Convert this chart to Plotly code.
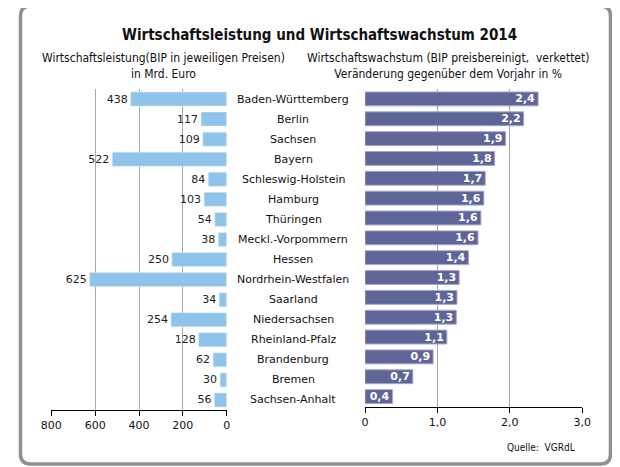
import plotly.graph_objects as go

# ---- data ----
states = ["Baden-Württemberg", "Berlin", "Sachsen", "Bayern", "Schleswig-Holstein",
          "Hamburg", "Thüringen", "Meckl.-Vorpommern", "Hessen", "Nordrhein-Westfalen",
          "Saarland", "Niedersachsen", "Rheinland-Pfalz", "Brandenburg", "Bremen",
          "Sachsen-Anhalt"]
gdp_bn_eur = [438, 117, 109, 522, 84, 103, 54, 38, 250, 625, 34, 254, 128, 62, 30, 56]
growth_pct = [2.39, 2.19, 1.94, 1.79, 1.66, 1.64, 1.60, 1.56, 1.43, 1.30,
              1.27, 1.26, 1.13, 0.94, 0.66, 0.38]
growth_labels = ["2,4", "2,2", "1,9", "1,8", "1,7", "1,6", "1,6", "1,6", "1,4", "1,3",
                 "1,3", "1,3", "1,1", "0,9", "0,7", "0,4"]
left_ticks = [800, 600, 400, 200, 0]
right_ticks = [0, 1, 2, 3]
right_ticktext = ["0", "1,0", "2,0", "3,0"]

W, H = 620, 467
OFF = 8  # page body margin offset
def px(x):
    return (x - OFF) / W
def py(y):
    return 1 - (y - OFF) / H

FONT = "DejaVu Sans, Verdana, sans-serif"
SUBFONT = "DejaVu Sans Condensed, Liberation Sans, Arial, sans-serif"

fig = go.Figure()

fig.add_trace(go.Bar(
    y=states, x=gdp_bn_eur, orientation="h",
    xaxis="x", yaxis="y",
    marker=dict(color="#8ec4ea"),
    text=[str(v) for v in gdp_bn_eur], textposition="outside",
    textfont=dict(family=FONT, size=11, color="#222222"),
    constraintext="none", cliponaxis=False, hoverinfo="skip",
))

fig.add_trace(go.Bar(
    y=states, x=growth_pct, orientation="h",
    xaxis="x2", yaxis="y2",
    marker=dict(color="#606598", line=dict(color="#a5a8cc", width=1)),
    text=growth_labels, textposition="inside", insidetextanchor="end",
    textfont=dict(family="DejaVu Sans, Verdana, sans-serif", size=11, color="white", weight="bold"),
    constraintext="none", hoverinfo="skip",
))

axis_common = dict(
    showline=True, linecolor="black", linewidth=1,
    ticks="outside", ticklen=5, tickcolor="black",
    showgrid=True, gridcolor="#a8a8a8", gridwidth=1,
    zeroline=True, zerolinecolor="white", zerolinewidth=1,
    tickfont=dict(family=FONT, size=11, color="#111111"),
    fixedrange=True, automargin=False,
)

fig.update_layout(
    width=W, height=H, autosize=False,
    margin=dict(l=0, r=0, t=0, b=0, pad=0, autoexpand=False),
    paper_bgcolor="white", plot_bgcolor="white",
    showlegend=False,
    bargap=0.3,
    xaxis=dict(domain=[px(51.3), px(226.7)], range=[800, 0],
               tickmode="array", tickvals=left_ticks,
               ticktext=[str(v) for v in left_ticks], anchor="y", **axis_common),
    yaxis=dict(domain=[py(410), py(89)], autorange="reversed",
               showticklabels=False, showgrid=False, showline=False,
               zeroline=False, ticks="", anchor="x", fixedrange=True, automargin=False),
    xaxis2=dict(domain=[px(365), px(582.3)], range=[0, 3],
                tickmode="array", tickvals=right_ticks, ticktext=right_ticktext,
                anchor="y2", **axis_common),
    yaxis2=dict(domain=[py(406.5), py(89)], autorange="reversed",
                showticklabels=False, showgrid=False, showline=False,
                zeroline=False, ticks="", anchor="x2", fixedrange=True, automargin=False),
)

annotations = []
for s in states:
    annotations.append(dict(
        x=px(293), xref="paper", y=s, yref="y", text=s, showarrow=False,
        xanchor="center", yanchor="middle",
        font=dict(family=FONT, size=11, color="#111111"),
    ))

annotations += [
    dict(x=px(320), y=py(35), xref="paper", yref="paper", showarrow=False,
         text="<b>Wirtschaftsleistung und Wirtschaftswachstum 2014</b>",
         xanchor="center", yanchor="middle",
         font=dict(family="DejaVu Sans Condensed, DejaVu Sans, sans-serif", size=15, color="#111111")),
    dict(x=px(164), y=py(66), xref="paper", yref="paper", showarrow=False,
         text="Wirtschaftsleistung(BIP in jeweiligen Preisen)<br>in Mrd. Euro",
         xanchor="center", yanchor="middle", align="center",
         font=dict(family=SUBFONT, size=12, color="#111111")),
    dict(x=px(448), y=py(66), xref="paper", yref="paper", showarrow=False,
         text="Wirtschaftswachstum (BIP preisbereinigt,  verkettet)<br>Veränderung gegenüber dem Vorjahr in %",
         xanchor="center", yanchor="middle", align="center",
         font=dict(family=SUBFONT, size=12, color="#111111")),
    dict(x=px(577), y=py(447), xref="paper", yref="paper", showarrow=False,
         text="Quelle:  VGRdL", xanchor="right", yanchor="middle",
         font=dict(family=SUBFONT, size=10, color="#111111")),
]
fig.update_layout(annotations=annotations)

# rounded outer frame
x0, x1, y0, y1 = 20.5, 610.5, 6, 464
r = 10
def P(x, y):
    return f"{px(x):.5f},{py(y):.5f}"
path = (f"M {P(x0 + r, y0)} L {P(x1 - r, y0)} Q {P(x1, y0)} {P(x1, y0 + r)} "
        f"L {P(x1, y1 - r)} Q {P(x1, y1)} {P(x1 - r, y1)} "
        f"L {P(x0 + r, y1)} Q {P(x0, y1)} {P(x0, y1 - r)} "
        f"L {P(x0, y0 + r)} Q {P(x0, y0)} {P(x0 + r, y0)} Z")
fig.add_shape(type="path", path=path, xref="paper", yref="paper",
              line=dict(color="#909090", width=3.5), layer="above")

fig.write_html("out.html")
